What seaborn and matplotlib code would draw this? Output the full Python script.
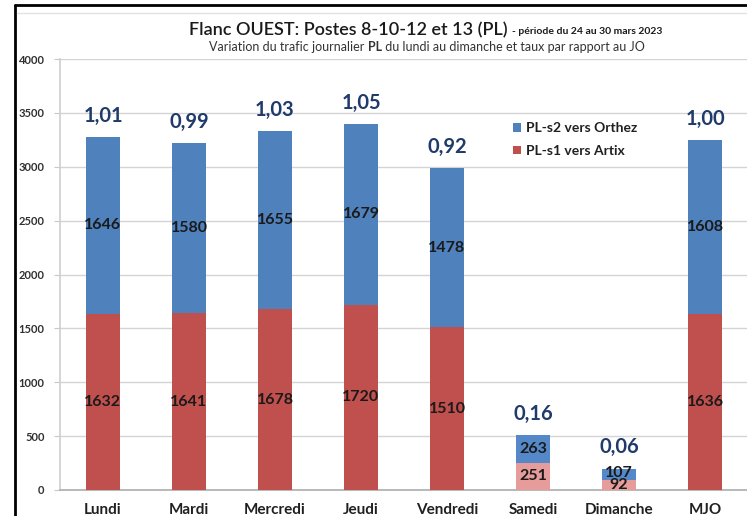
import matplotlib
matplotlib.use("Agg")
import matplotlib.pyplot as plt
from matplotlib.patches import Patch
from matplotlib.lines import Line2D
import seaborn as sns
import pandas as pd
import numpy as np

jours = ["Lundi", "Mardi", "Mercredi", "Jeudi", "Vendredi", "Samedi", "Dimanche", "MJO"]
orthez = [1646, 1580, 1655, 1679, 1478, 263, 107, 1608]
artix = [1632, 1641, 1678, 1720, 1510, 251, 92, 1636]
taux = ["1,01", "0,99", "1,03", "1,05", "0,92", "0,16", "0,06", "1,00"]
yticks = [0, 500, 1000, 1500, 2000, 2500, 3000, 3500, 4000]

BLUE = "#4F81BD"
RED = "#C0504D"
BLUE_WE = "#5588C8"
RED_WE = "#E59C9A"
weekend = {"Samedi", "Dimanche"}

sns.set_theme(style="white", rc={"axes.spines.right": False, "axes.spines.top": False})
plt.rcParams["font.family"] = ["Lato", "DejaVu Sans"]

df = pd.DataFrame({"jour": jours, "orthez": orthez, "artix": artix})
df["total"] = df["orthez"] + df["artix"]

fig = plt.figure(figsize=(7.47, 5.16), dpi=100)
W, H = 747, 516
ax = fig.add_axes([60 / W, 1 - 490 / H, 688 / W, (490 - 59) / H])

pal_blue = {j: (BLUE_WE if j in weekend else BLUE) for j in jours}
pal_red = {j: (RED_WE if j in weekend else RED) for j in jours}

sns.barplot(data=df, x="jour", y="total", hue="jour", palette=pal_blue,
            legend=False, width=0.4, saturation=1, ax=ax, zorder=2,
            linewidth=0, edgecolor="none")
sns.barplot(data=df, x="jour", y="artix", hue="jour", palette=pal_red,
            legend=False, width=0.4, saturation=1, ax=ax, zorder=3,
            linewidth=0, edgecolor="none")

ax.set_ylim(0, 4000)
ax.set_xlim(-0.5, len(jours) - 0.5)
ax.set_yticks(yticks)
ax.set_yticklabels([str(v) for v in yticks], fontsize=8, fontweight="bold", color="#303030")
ax.set_xlabel("")
ax.set_ylabel("")
ax.set_xticks(range(len(jours)))
ax.set_xticklabels(jours, fontsize=11, fontweight="bold", color="#202020")
ax.tick_params(axis="x", which="major", length=0, pad=9)
ax.set_xticks(np.arange(-0.5, len(jours) - 1, 1), minor=True)
ax.tick_params(axis="x", which="minor", length=4, color="#A0A0A0", width=0.8, direction="out")
ax.tick_params(axis="y", which="major", length=4, color="#C8C8C8", width=0.8, pad=7, direction="out", left=True, right=False)
ax.yaxis.grid(True, color="#D4D4D4", linewidth=1, zorder=0)
ax.xaxis.grid(False)
ax.set_axisbelow(True)
ax.spines["left"].set_color("#D0D0D0")
ax.spines["bottom"].set_color("#B0B0B0")
ax.spines["right"].set_visible(False)
ax.spines["top"].set_visible(False)

for i, (o, a, t) in enumerate(zip(orthez, artix, taux)):
    ax.text(i, a / 2, str(a), ha="center", va="center", fontsize=11.5,
            fontweight="bold", color="#1A1A1A", zorder=5)
    ax.text(i, a + o / 2 + (8 if o < 150 else 0), str(o), ha="center", va="center", fontsize=11.5,
            fontweight="bold", color="#1A1A1A", zorder=5)
    ax.annotate(t, xy=(i, a + o), xytext=(0, 8), textcoords="offset points",
                ha="center", va="bottom", fontsize=14.5, fontweight="bold",
                color="#1F3A6B", zorder=5)

handles = [Patch(facecolor=BLUE, edgecolor="none", label="PL-s2 vers Orthez"),
           Patch(facecolor=RED, edgecolor="none", label="PL-s1 vers Artix")]
leg = fig.legend(handles=handles, loc="upper left", bbox_to_anchor=(500 / W, 1 - 110 / H),
                 frameon=False, fontsize=10, handlelength=0.6, handleheight=0.6,
                 handletextpad=0.4, labelspacing=0.75)
for txt in leg.get_texts():
    txt.set_fontweight("bold")
    txt.set_color("#202020")

# Title pieces
fig.text(508 / W, 1 - 30 / H, "Flanc OUEST: Postes 8-10-12 et 13 (PL)", ha="right",
         va="center", fontsize=13, fontweight="semibold", color="#1A1A1A")
fig.text(512 / W, 1 - 31 / H, "- période du 24 au 30 mars 2023", ha="left",
         va="center", fontsize=7.5, fontweight="bold", color="#1A1A1A")

fig.canvas.draw()
r = fig.canvas.get_renderer()
parts = [("Variation du trafic journalier ", "normal"), ("PL", "bold"),
         (" du lundi au dimanche et taux par rapport au JO", "normal")]
tmp = []
total_w = 0
for s, w in parts:
    t = fig.text(0, 0, s, fontsize=9, fontweight=w)
    bb = t.get_window_extent(r)
    tmp.append((t, bb.width))
    total_w += bb.width
x0 = (427 * fig.dpi / 100) - total_w / 2
xx = x0
for (t, wdt) in tmp:
    t.set_position((xx / fig.bbox.width, 1 - 47 / H))
    t.set_va("center")
    t.set_color("#333333")
    xx += wdt

# frame lines
fig.add_artist(Line2D([15 / W, 15 / W], [0, 1 - 5 / H], color="black", linewidth=2, transform=fig.transFigure, zorder=60))
fig.add_artist(Line2D([15 / W, 1.01], [1 - 5 / H, 1 - 5 / H], color="black", linewidth=2, transform=fig.transFigure, zorder=60))
fig.add_artist(Line2D([17 / W, 1.01], [1 - 13 / H, 1 - 13 / H], color="#E2E2E2", linewidth=1, transform=fig.transFigure, zorder=60))

fig.savefig("out.png", dpi=100)
